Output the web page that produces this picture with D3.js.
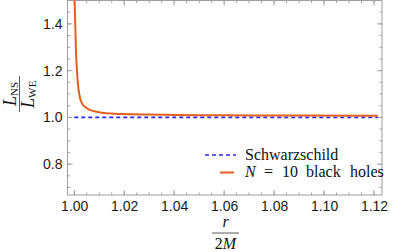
<!DOCTYPE html>
<html>
<head>
<meta charset="utf-8">
<script src="https://cdn.jsdelivr.net/npm/d3@7"></script>
<style>
  html, body { margin: 0; padding: 0; background: #fff; }
  svg { display: block; }
  .tick text { font-family: "Liberation Sans", Arial, sans-serif; }
  .serif { font-family: "Liberation Serif", "DejaVu Serif", serif; }
</style>
</head>
<body>
<svg id="chart" width="393" height="252"></svg>
<script>
// data
let xTicks = [1.00, 1.02, 1.04, 1.06, 1.08, 1.10, 1.12];
let yTicks = [0.8, 1.0, 1.2, 1.4];
let schwR = [1.0, 1.1215];
let schwVal = [1.0, 1.0];
let bhR = [1.0001, 1.0004, 1.0007, 1.0011, 1.0015, 1.0020, 1.0026, 1.0034, 1.0044, 1.0060,
           1.0084, 1.011, 1.016, 1.02, 1.028, 1.04, 1.05, 1.07, 1.09, 1.1215];
let bhVal = [1.52, 1.40, 1.28, 1.20, 1.14, 1.10, 1.072, 1.055, 1.044, 1.033,
             1.025, 1.020, 1.016, 1.014, 1.012, 1.0105, 1.0095, 1.0085, 1.008, 1.007];

let width = 393, height = 252;
let pl = 67.5, pr = 382, pt = 0.5, pb = 195;
let svg = d3.select('#chart');

let x = d3.scaleLinear().domain([0.9973, 1.1232]).range([pl, pr]);
let y = d3.scaleLinear().domain([0.668, 1.5]).range([pb, pt]);

let frameCol = '#a0a0a0';
let blue = '#2b2bff', orange = '#e2601f';

// clip for curves
svg.append('clipPath').attr('id', 'clip')
    .append('rect').attr('x', pl).attr('y', pt).attr('width', pr - pl).attr('height', pb - pt);

// minor ticks
let xMinor = d3.range(0, 26).map(i => 1.0 + i * 0.005).filter(v => v <= 1.1232);
let yMinor = d3.range(0, 18).map(i => 0.65 + i * 0.05).filter(v => v >= 0.668 && v <= 1.5);

let g = svg.append('g');
function tickMarks(vals, len, isX) {
    vals.forEach(v => {
        if (isX) {
            let px = x(v);
            g.append('line').attr('x1', px).attr('x2', px).attr('y1', pb).attr('y2', pb - len).attr('stroke', frameCol);
            g.append('line').attr('x1', px).attr('x2', px).attr('y1', pt).attr('y2', pt + len).attr('stroke', frameCol);
        } else {
            let py = y(v);
            g.append('line').attr('x1', pl).attr('x2', pl + len).attr('y1', py).attr('y2', py).attr('stroke', frameCol);
            g.append('line').attr('x1', pr).attr('x2', pr - len).attr('y1', py).attr('y2', py).attr('stroke', frameCol);
        }
    });
}
tickMarks(xMinor, 2.5, true);
tickMarks(yMinor, 2.5, false);
tickMarks(xTicks, 5, true);
tickMarks(yTicks, 5, false);

// tick labels via axes (lines hidden)
let xAxis = svg.append('g').attr('transform', `translate(0,${pb})`)
    .call(d3.axisBottom(x).tickValues(xTicks).tickFormat(d3.format('.2f')).tickSize(0).tickPadding(6));
let yAxis = svg.append('g').attr('transform', `translate(${pl},0)`)
    .call(d3.axisLeft(y).tickValues(yTicks).tickFormat(d3.format('.1f')).tickSize(0).tickPadding(5));
[xAxis, yAxis].forEach(a => {
    a.select('.domain').remove();
    a.selectAll('text').attr('font-size', 14).attr('fill', '#1a1a1a');
});

// frame
svg.append('rect').attr('x', pl).attr('y', pt).attr('width', pr - pl).attr('height', pb - pt)
    .attr('fill', 'none').attr('stroke', frameCol).attr('stroke-width', 1);

let line = d3.line().x(d => x(d[0])).y(d => y(d[1]));
let plot = svg.append('g').attr('clip-path', 'url(#clip)');
plot.append('path').datum(schwR.map((r, i) => [r, schwVal[i]]))
    .attr('d', line).attr('fill', 'none').attr('stroke', blue)
    .attr('stroke-width', 1.6).attr('stroke-dasharray', '4,3');
plot.append('path').datum(bhR.map((r, i) => [r, bhVal[i]]))
    .attr('d', d3.line().curve(d3.curveMonotoneX).x(d => x(d[0])).y(d => y(d[1])))
    .attr('fill', 'none').attr('stroke', orange).attr('stroke-width', 2);

// legend
let leg = svg.append('g');
leg.append('line').attr('x1', 205).attr('x2', 236).attr('y1', 155).attr('y2', 155)
    .attr('stroke', blue).attr('stroke-width', 1.6).attr('stroke-dasharray', '4,3');
leg.append('line').attr('x1', 220).attr('x2', 234).attr('y1', 172.5).attr('y2', 172.5)
    .attr('stroke', orange).attr('stroke-width', 2);
leg.append('text').attr('class', 'serif').attr('x', 245).attr('y', 159.5).attr('font-size', 16)
    .attr('fill', '#111').text('Schwarzschild');
let t2 = leg.append('text').attr('class', 'serif').attr('y', 177).attr('font-size', 16).attr('fill', '#111');
t2.append('tspan').attr('x', 245).attr('font-style', 'italic').text('N');
t2.append('tspan').attr('x', 264).text('=');
t2.append('tspan').attr('x', 282).text('10');
t2.append('tspan').attr('x', 306).text('black');
t2.append('tspan').attr('x', 350).text('holes');

// x axis label r / 2M
let xl = svg.append('g').attr('class', 'serif').attr('fill', '#111');
xl.append('text').attr('x', 225.5).attr('y', 227).attr('text-anchor', 'middle').attr('font-size', 16)
    .attr('font-style', 'italic').text('r');
xl.append('line').attr('x1', 212).attr('x2', 239).attr('y1', 233).attr('y2', 233).attr('stroke', '#333').attr('stroke-width', 0.8);
let t2m = xl.append('text').attr('x', 225.5).attr('y', 248.5).attr('text-anchor', 'middle').attr('font-size', 16);
t2m.append('tspan').text('2');
t2m.append('tspan').attr('font-style', 'italic').text('M');

// y axis label L_NS / L_WE (rotated)
let yl = svg.append('g').attr('class', 'serif').attr('fill', '#111')
    .attr('transform', 'translate(0,94) rotate(-90)');
let num = yl.append('text').attr('x', 0).attr('y', 16).attr('text-anchor', 'middle').attr('font-size', 18);
num.append('tspan').attr('font-style', 'italic').text('L');
num.append('tspan').attr('font-size', 11).attr('dy', 2).text('NS');
yl.append('line').attr('x1', -18).attr('x2', 18).attr('y1', 19.5).attr('y2', 19.5).attr('stroke', '#333').attr('stroke-width', 0.8);
let den = yl.append('text').attr('x', 0).attr('y', 34).attr('text-anchor', 'middle').attr('font-size', 18);
den.append('tspan').attr('font-style', 'italic').text('L');
den.append('tspan').attr('font-size', 11).attr('dy', 2).attr('letter-spacing', 0.5).text('WE');
</script>
</body>
</html>
